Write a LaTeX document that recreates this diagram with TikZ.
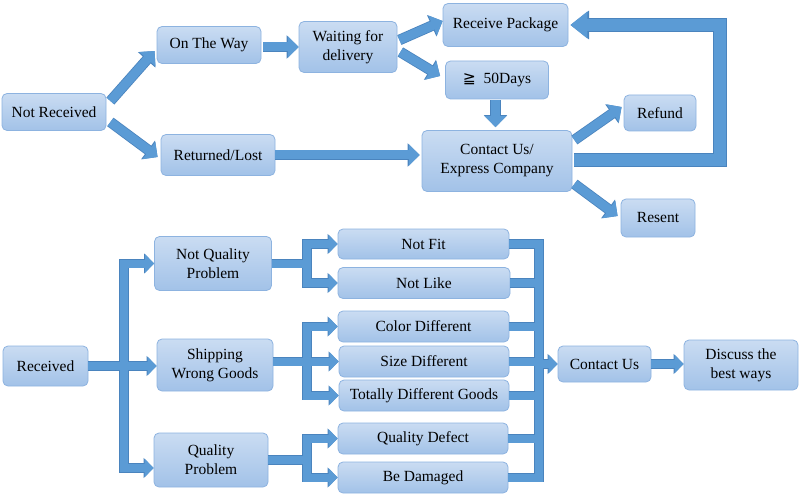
\documentclass[tikz,border=0pt]{standalone}
\usepackage{fontspec}
\setmainfont{Liberation Serif}
\newfontfamily\symfont{DejaVu Sans}
\usetikzlibrary{arrows.meta,calc}
\definecolor{boxtop}{HTML}{CADCF2}
\definecolor{boxbot}{HTML}{A2C2E8}
\definecolor{boxline}{HTML}{8DB3E0}
\definecolor{arrfill}{HTML}{5B9BD5}
\definecolor{arrline}{HTML}{4A84BE}
\tikzset{
  box/.style={draw=boxline, line width=0.8pt, rounded corners=5pt,
    top color=boxtop, bottom color=boxbot, align=center, inner sep=1pt,
    font=\fontsize{15.5}{19}\selectfont, text=black},
  ta/.style={line width=9pt+\o pt, -{Triangle[width=12pt 1, length=5pt .65]}},
  tb/.style={line width=8pt+\o pt, line join=miter, -{Triangle[width=10pt 1, length=4pt .625]}},
  tl/.style={line width=12pt+\o pt, line join=miter, -{Triangle[width=14pt 1, length=5pt 1]}},
  ts/.style={line width=8pt+\o pt, line join=miter},
}
\newcommand{\bx}[6]{\node[box, minimum width=#4pt, minimum height=#5pt] (#1) at (#2,#3) {#6};}
\begin{document}
\begin{tikzpicture}[x=1pt,y=-1pt]
\fill[white] (0,0) rectangle (800,497);
\useasboundingbox (0,0) rectangle (800,497);
% top nodes
\bx{nr}{54}{112}{104}{37}{Not Received}
\bx{otw}{209}{45}{104}{37}{On The Way}
\bx{wfd}{348}{47}{98}{51}{Waiting for\\delivery}
\bx{rp}{505.5}{25}{125}{43}{Receive Package}
\bx{dd}{497}{80}{103}{38}{{\symfont ≧}\ \ 50Days}
\bx{rl}{218}{155}{114}{41}{Returned/Lost}
\bx{cua}{497}{161}{150}{61}{Contact Us/\\Express Company}
\bx{rf}{660}{113}{72}{36}{Refund}
\bx{rs}{658}{218}{74}{38}{Resent}
% bottom nodes
\bx{rec}{45.5}{366}{85}{40}{Received}
\bx{nqp}{213}{263.5}{117}{54}{Not Quality\\Problem}
\bx{swg}{215}{365}{116}{52}{Shipping\\Wrong Goods}
\bx{qp}{211}{460}{114}{54}{Quality\\Problem}
\bx{nf}{423.5}{244}{171}{30}{Not Fit}
\bx{nl}{424}{283}{172}{31}{Not Like}
\bx{cd}{423.5}{326.5}{171}{31}{Color Different}
\bx{sd}{424}{361.5}{170}{31}{Size Different}
\bx{tdg}{424}{395.5}{170}{31}{Totally Different Goods}
\bx{qd}{423}{438.5}{170}{31}{Quality Defect}
\bx{bd}{423}{477.5}{170}{31}{Be Damaged}
\bx{cub}{604.5}{364}{93}{36}{Contact Us}
\bx{dbw}{741}{365}{114}{50}{Discuss the\\best ways}
\coordinate (lbus) at (124,0);
\coordinate (mbus) at (307,0);
\coordinate (rbus) at (539,0);
\coordinate (loopx) at (720,0);
% connectors: border pass, then fill pass
\foreach \o/\c in {1.6/arrline,0/arrfill}{
\begin{scope}[draw=\c]
  \draw[ta] ($(nr.east)+(4,-11)$) -- ($(otw.west)+(-2,6)$);
  \draw[ta] ($(nr.east)+(4,10)$) -- ($(rl.west)+(-3,2)$);
  \draw[ta] ($(otw.east)+(2,2)$) -- (wfd.west);
  \draw[ta] ($(wfd.east)+(2,-7)$) -- ($(rp.west)+(0,-4)$);
  \draw[ta] ($(wfd.east)+(3,5)$) -- ($(dd.west)+(-5,-4)$);
  \draw[ta] ($(dd.south)+(-1.5,1)$) -- ($(cua.north)+(-1.5,-3)$);
  \draw[ta] (rl.east) -- ($(cua.west)+(-2,-6)$);
  \draw[ta] ($(cua.east)+(2,-21)$) -- ($(rf.west)+(-2,-6)$);
  \draw[ta] ($(cua.east)+(2,23)$) -- ($(rs.west)+(-3,-2)$);
  \draw[tl] ($(cua.east)+(2,-1)$) -- ($(cua.east -| loopx)+(0,-1)$) |- ($(rp.east)+(2,0)$);
  % received tree
  \draw[tb] (rec.east) -- (rec.east -| swg.west);
  \draw[tb] ($(lbus |- qp.west)+(0,8)$) |- (nqp.west);
  \draw[tb] (lbus |- nqp.west) |- ($(qp.west)+(0,8)$);
  \draw[tb] (nqp.east) -- (mbus |- nqp.east) |- (nf.west);
  \draw[tb] (mbus |- nqp.east) |- (nl.west);
  \draw[tb] (swg.east |- sd.west) -- (sd.west);
  \draw[tb] (mbus |- sd.west) |- (cd.west);
  \draw[tb] (mbus |- sd.west) |- (tdg.west);
  \draw[tb] (qp.east) -- (mbus |- qp.east) |- (qd.west);
  \draw[tb] (mbus |- qp.east) |- (bd.west);
  \draw[ts] (nf.east) -- (rbus |- nf.east) -- (rbus |- bd.east) -- (bd.east);
  \draw[ts] (nl.east) -- (rbus |- nl.east);
  \draw[ts] (cd.east) -- (rbus |- cd.east);
  \draw[ts] (sd.east) -- (rbus |- sd.east);
  \draw[ts] (tdg.east) -- (rbus |- tdg.east);
  \draw[ts] (qd.east) -- (rbus |- qd.east);
  \draw[tb] (rbus |- cub.west) -- (cub.west);
  \draw[tb] (cub.east) -- (cub.east -| dbw.west);
\end{scope}
}
\end{tikzpicture}
\end{document}
